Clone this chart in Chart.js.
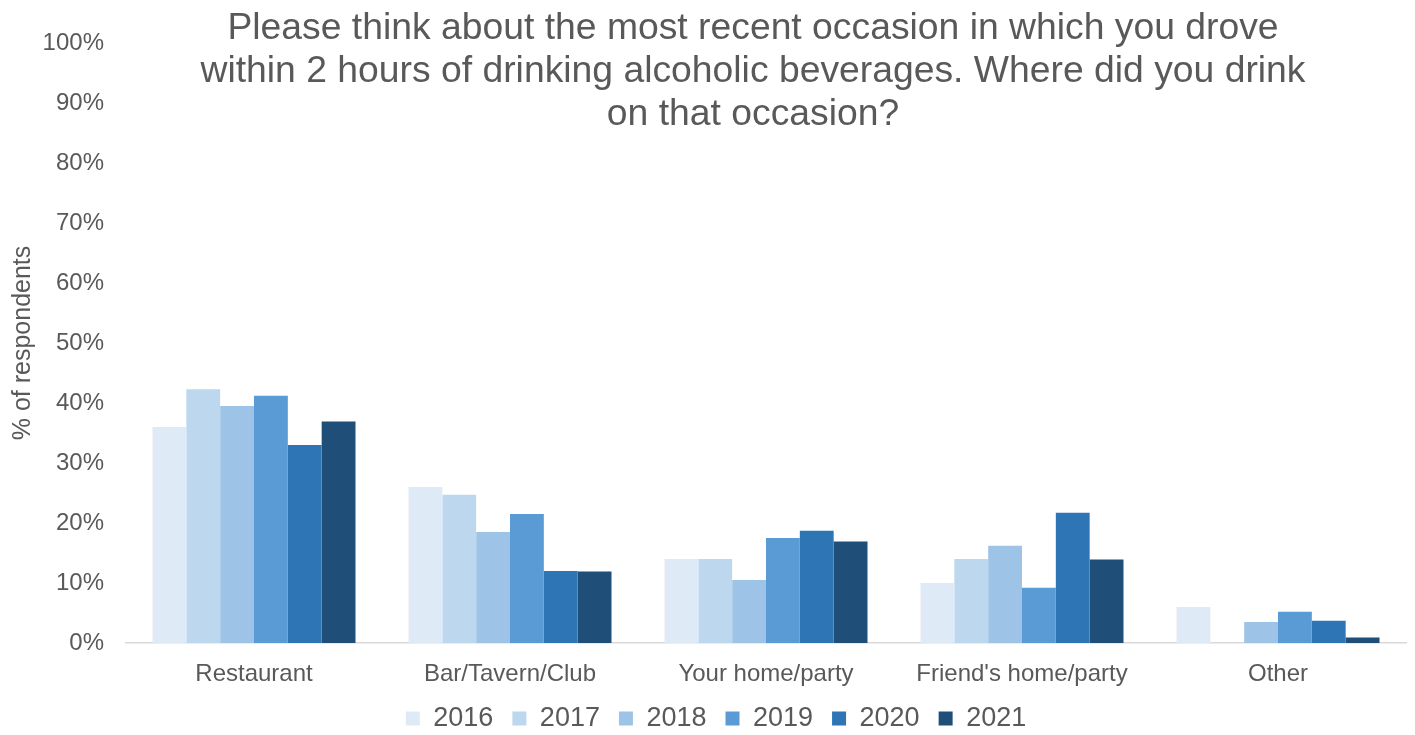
<!DOCTYPE html>
<html>
<head>
<meta charset="utf-8">
<script src="https://cdn.jsdelivr.net/npm/chart.js@4"></script>
<style>
  html, body { margin: 0; padding: 0; background: #ffffff; }
  #wrap { width: 1415px; height: 735px; }
</style>
</head>
<body>
<div id="wrap"><canvas id="chart"></canvas></div>
<script>
const categories = ['Restaurant', 'Bar/Tavern/Club', 'Your home/party', "Friend's home/party", 'Other'];
const years = ['2016', '2017', '2018', '2019', '2020', '2021'];
const values2016 = [36.0, 26.0, 14.0, 10.0, 6.0];
const values2017 = [42.3, 24.7, 14.0, 14.0, 0];
const values2018 = [39.5, 18.5, 10.5, 16.2, 3.5];
const values2019 = [41.2, 21.5, 17.5, 9.2, 5.2];
const values2020 = [33.0, 12.0, 18.7, 21.7, 3.7];
const values2021 = [36.9, 11.9, 16.9, 13.9, 0.9];
const yTicks = [0, 10, 20, 30, 40, 50, 60, 70, 80, 90, 100];
const titleLines = [
  'Please think about the most recent occasion in which you drove',
  'within 2 hours of drinking alcoholic beverages. Where did you drink',
  'on that occasion?'
];

const palette = ['#DEEAF6', '#BDD7EE', '#9DC3E6', '#5B9BD5', '#2E75B6', '#1F4E79'];
const seriesValues = [values2016, values2017, values2018, values2019, values2020, values2021];
const textColor = '#595959';
const fontFamily = '"Liberation Sans", Arial, sans-serif';

// Title drawn over the top of the plot area
const overlayTitle = {
  id: 'overlayTitle',
  afterDraw(chart) {
    const ctx = chart.ctx;
    const area = chart.chartArea;
    const cx = (area.left + area.right) / 2 - 13;
    ctx.save();
    ctx.fillStyle = textColor;
    ctx.font = '37.3px ' + fontFamily;
    ctx.textAlign = 'center';
    ctx.textBaseline = 'alphabetic';
    titleLines.forEach((line, i) => {
      ctx.fillText(line, cx, 38.5 + i * 43);
    });
    ctx.restore();
  }
};

// Nudge the legend row a little to the right of the canvas centre
const legendShift = {
  id: 'legendShift',
  afterLayout(chart) {
    if (chart.legend) {
      chart.legend.left += 13;
      chart.legend.right += 13;
    }
  }
};

new Chart(document.getElementById('chart'), {
  type: 'bar',
  data: {
    labels: categories,
    datasets: years.map((y, i) => ({
      label: y,
      data: seriesValues[i],
      backgroundColor: palette[i],
      borderWidth: 0,
      barPercentage: 1.0,
      categoryPercentage: 0.793
    }))
  },
  options: {
    responsive: true,
    maintainAspectRatio: false,
    animation: false,
    layout: { padding: { top: 43, right: 9, left: 0, bottom: -7 } },
    plugins: {
      legend: {
        position: 'bottom',
        labels: {
          color: textColor,
          font: { family: fontFamily, size: 27 },
          boxWidth: 14,
          boxHeight: 14,
          padding: 19
        }
      },
      title: { display: false },
      tooltip: { enabled: false }
    },
    scales: {
      x: {
        grid: { display: false, drawTicks: false },
        border: { display: true, color: '#D9D9D9', width: 1.5 },
        ticks: {
          color: textColor,
          font: { family: fontFamily, size: 24 },
          padding: 17,
          maxRotation: 0
        },
        afterFit(scale) { scale.height = 43; }
      },
      y: {
        min: 0,
        max: 100,
        afterBuildTicks(scale) { scale.ticks = yTicks.map(v => ({ value: v })); },
        grid: { display: false, drawTicks: false },
        border: { display: false },
        ticks: {
          color: textColor,
          font: { family: fontFamily, size: 24 },
          padding: 22,
          callback: v => v + '%'
        },
        title: {
          display: true,
          text: '% of respondents',
          color: textColor,
          font: { family: fontFamily, size: 25 },
          padding: { top: 8, bottom: 0 }
        },
        afterFit(scale) { scale.width = 126; }
      }
    }
  },
  plugins: [overlayTitle, legendShift]
});
</script>
</body>
</html>
